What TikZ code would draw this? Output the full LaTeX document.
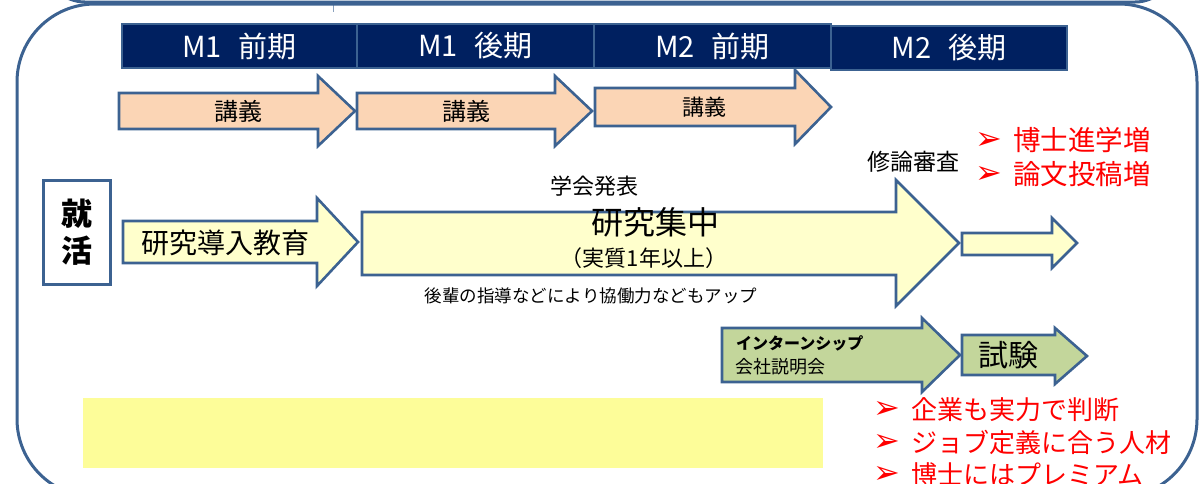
\documentclass[tikz,border=0pt]{standalone}
\usepackage{fontspec}
\setmainfont{Noto Sans CJK JP}
\newfontfamily\dv{DejaVu Sans}
\definecolor{frameblue}{RGB}{60,98,145}
\definecolor{navy}{RGB}{0,32,96}
\definecolor{peach}{RGB}{251,213,181}
\definecolor{lightyel}{RGB}{255,255,204}
\definecolor{sage}{RGB}{195,214,155}
\definecolor{hilite}{RGB}{253,253,153}
\definecolor{redtxt}{RGB}{255,0,0}
\newcommand\blockarrow[9]{%
  \draw[arrowbox, fill=#1] (#2,#5) -- (#3,#5) -- (#3,#7) -- (#4,{(#7+#8)/2}) -- (#3,#8) -- (#3,#6) -- (#2,#6) -- cycle;
  \coordinate (#9) at ({(#2+#3)/2},{(#5+#6)/2});}
\newcommand\redbullet{\raisebox{1pt}{\dv\fontsize{32}{34}\selectfont ➢}\hspace{11pt}}
\tikzset{
  arrowbox/.style={draw=frameblue, line width=2.6pt, line join=miter},
  hdr/.style={draw=frameblue, line width=2.2pt, fill=navy, text=white, font=\fontsize{29}{31}\selectfont, inner sep=0pt},
  lbl/.style={inner sep=0pt, text=black},
  redlist/.style={inner sep=0pt, text=redtxt, font=\fontsize{27.5}{29}\selectfont, anchor=west},
  redlistb/.style={redlist, font=\fontsize{26}{28}\selectfont},
}
\begin{document}
\begin{tikzpicture}[x=1pt, y=-1pt]
\useasboundingbox (0,0) rectangle (1201,483);
\clip (0,0) rectangle (1201,483);
% shape above (only its lower edge visible)
\draw[frameblue, line width=3pt, rounded corners=40pt] (45,-120) rectangle (1175,2);
\draw[frameblue!60, line width=1pt] (333,3) -- (333,12);
% main rounded frame
\draw[frameblue, line width=3pt, rounded corners=78pt] (17,4) rectangle (1197,497);
% header boxes
\node[hdr, minimum width=235pt, minimum height=44pt] (h1) at (239.5,46) {M1\hspace{17pt}前期};
\node[hdr, minimum width=237pt, minimum height=44pt] (h2) at (475.5,46) {M1\hspace{17pt}後期};
\node[hdr, minimum width=237pt, minimum height=44pt] (h3) at (712.5,46) {M2\hspace{17pt}前期};
\node[hdr, minimum width=236pt, minimum height=44pt] (h4) at (949,48) {M2\hspace{17pt}後期};
% lecture arrows
\blockarrow{peach}{119}{318}{355}{93}{129}{76}{146}{a1}
\blockarrow{peach}{357}{555}{592}{93}{129}{76}{146}{a2}
\blockarrow{peach}{595}{795}{831}{88}{126}{70}{144}{a3}
\node[lbl, font=\fontsize{24}{26}\selectfont] (t1) at (238,111) {講義};
\node[lbl, font=\fontsize{24}{26}\selectfont] (t2) at (466,111) {講義};
\node[lbl, font=\fontsize{22}{24}\selectfont] (t3) at (704,107) {講義};
% shukatsu box
\node[draw=frameblue, line width=2.6pt, fill=white, minimum width=67pt, minimum height=104pt, inner sep=0pt, align=center, font=\bfseries\fontsize{31}{37}\selectfont] (sk) at (77,232.5) {就\\活};
% research arrows
\blockarrow{lightyel}{123}{317}{358}{221}{263}{198}{286}{a4}
\node[lbl, font=\fontsize{28}{30}\selectfont] (t4) at (225,243) {研究導入教育};
\blockarrow{lightyel}{362}{896}{959}{212}{275}{180}{306}{a5}
\node[lbl, font=\fontsize{32}{34}\selectfont] (t5) at (655,222) {研究集中};
\node[lbl, font=\fontsize{22}{24}\selectfont] (t5b) at (644,258) {（実質1年以上）};
\node[lbl, font=\fontsize{22}{24}\selectfont] (gk) at (594,186) {学会発表};
\node[lbl, font=\fontsize{17.5}{19}\selectfont] (kh) at (591,296) {後輩の指導などにより協働力などもアップ};
\node[lbl, font=\fontsize{23}{25}\selectfont] (sr) at (913,162) {修論審査};
\blockarrow{lightyel}{962}{1052}{1077}{233}{255}{218}{268}{a6}
% red list 1
\node[redlist] (r1) at (975,140) {\redbullet 博士進学増};
\node[redlist] (r2) at (975,174) {\redbullet 論文投稿増};
% internship
\blockarrow{sage}{722}{922}{960}{328}{382}{318}{392}{a7}
\node[lbl, anchor=west, font=\bfseries\fontsize{16}{18}\selectfont] (in1) at (736,343) {インターンシップ};
\node[lbl, anchor=west, font=\fontsize{18}{20}\selectfont] (in2) at (735,367) {会社説明会};
\blockarrow{sage}{962}{1055}{1087}{335}{375}{328}{384}{a8}
\node[lbl, font=\fontsize{30}{32}\selectfont] (sh) at (1008,355) {試験};
% yellow highlight
\fill[hilite] (83,398) rectangle (823,468);
% red list 2
\node[redlistb] (r3) at (873,410) {\redbullet 企業も実力で判断};
\node[redlistb] (r4) at (873,442) {\redbullet ジョブ定義に合う人材};
\node[redlistb] (r5) at (873,475) {\redbullet 博士にはプレミアム};
\end{tikzpicture}
\end{document}
